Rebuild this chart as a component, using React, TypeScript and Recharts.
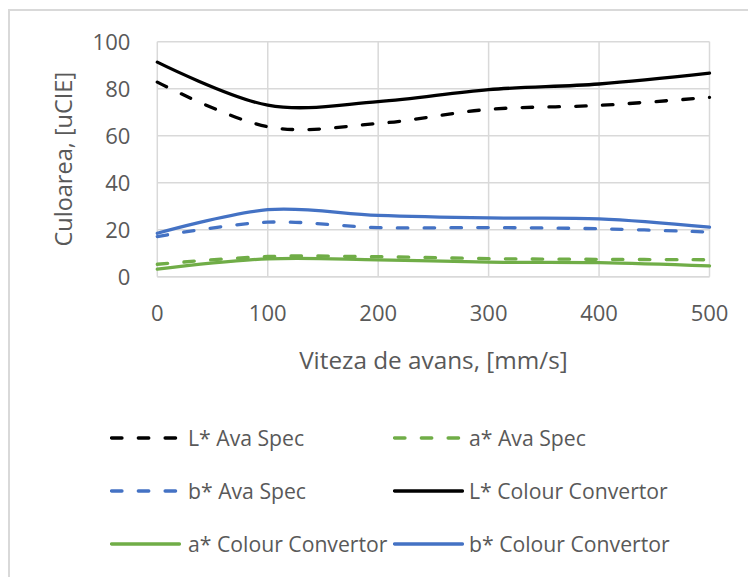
import React from "react";
import {
  LineChart,
  Line,
  XAxis,
  YAxis,
  CartesianGrid,
  Legend,
} from "recharts";

// Feed speed (mm/s)
const speeds = [0, 100, 200, 300, 400, 500];

// Colour coordinates measured with the spectrometer
const lAvaSpec = [82.8, 63.8, 65.2, 71.2, 72.9, 76.3];
const aAvaSpec = [5.3, 8.6, 8.5, 7.7, 7.4, 7.2];
const bAvaSpec = [17.1, 23.2, 20.9, 20.9, 20.4, 19.0];

// Colour coordinates computed with the colour convertor
const lColourConv = [91.3, 73.0, 74.5, 79.6, 82.0, 86.6];
const aColourConv = [3.2, 7.6, 7.2, 6.2, 6.0, 4.6];
const bColourConv = [18.5, 28.5, 26.1, 25.0, 24.6, 21.1];

const xTicks = [0, 100, 200, 300, 400, 500];
const yTicks = [0, 20, 40, 60, 80, 100];

const BLACK = "#000000";
const GREEN = "#70ad47";
const BLUE = "#4472c4";
const TEXT = "#595959";
const GRID = "#d9d9d9";
const FONT = "'Open Sans', sans-serif";

const series = [
  { key: "lAva", name: "L* Ava Spec", values: lAvaSpec, color: BLACK, dashed: true },
  { key: "aAva", name: "a* Ava Spec", values: aAvaSpec, color: GREEN, dashed: true },
  { key: "bAva", name: "b* Ava Spec", values: bAvaSpec, color: BLUE, dashed: true },
  { key: "lCc", name: "L* Colour Convertor", values: lColourConv, color: BLACK, dashed: false },
  { key: "aCc", name: "a* Colour Convertor", values: aColourConv, color: GREEN, dashed: false },
  { key: "bCc", name: "b* Colour Convertor", values: bColourConv, color: BLUE, dashed: false },
];

const data = speeds.map((s, i) => {
  const row: Record<string, number> = { speed: s };
  series.forEach((sr) => {
    row[sr.key] = sr.values[i];
  });
  return row;
});

// Smoothed spline (cardinal, tension 0) used as a custom d3-style curve factory
function smoothSegment(that: any, x: number, y: number) {
  that._context.bezierCurveTo(
    that._x1 + that._k * (that._x2 - that._x0),
    that._y1 + that._k * (that._y2 - that._y0),
    that._x2 + that._k * (that._x1 - x),
    that._y2 + that._k * (that._y1 - y),
    that._x2,
    that._y2
  );
}

function SmoothCurve(this: any, context: any) {
  this._context = context;
  this._k = 1 / 6;
}
SmoothCurve.prototype = {
  areaStart() {
    this._line = 0;
  },
  areaEnd() {
    this._line = NaN;
  },
  lineStart() {
    this._x0 = this._x1 = this._x2 = this._y0 = this._y1 = this._y2 = NaN;
    this._point = 0;
  },
  lineEnd() {
    switch (this._point) {
      case 2:
        this._context.lineTo(this._x2, this._y2);
        break;
      case 3:
        smoothSegment(this, this._x1, this._y1);
        break;
    }
    if (this._line || (this._line !== 0 && this._point === 1)) this._context.closePath();
    this._line = 1 - this._line;
  },
  point(x: number, y: number) {
    x = +x;
    y = +y;
    switch (this._point) {
      case 0:
        this._point = 1;
        if (this._line) this._context.lineTo(x, y);
        else this._context.moveTo(x, y);
        break;
      case 1:
        this._point = 2;
        this._x1 = x;
        this._y1 = y;
        break;
      case 2:
        this._point = 3;
        smoothSegment(this, x, y);
        break;
      default:
        smoothSegment(this, x, y);
        break;
    }
    this._x0 = this._x1;
    this._x1 = this._x2;
    this._x2 = x;
    this._y0 = this._y1;
    this._y1 = this._y2;
    this._y2 = y;
  },
};

const smoothCurve = (context: any) => new (SmoothCurve as any)(context);

const LEGEND_HEIGHT = 160;
const legendRows = [21, 74, 127];
const legendCols = [
  { lineX: 110, textX: 188 },
  { lineX: 393, textX: 469 },
];

const renderLegend = () => (
  <div style={{ position: "relative", width: 748, height: LEGEND_HEIGHT }}>
    {series.map((sr, i) => {
      const col = legendCols[i % 2];
      const rowY = legendRows[Math.floor(i / 2)];
      return (
        <div key={sr.key}>
          <svg
            width={72}
            height={8}
            style={{ position: "absolute", left: col.lineX, top: rowY - 4 }}
          >
            <line
              x1={1.5}
              y1={4}
              x2={69.5}
              y2={4}
              stroke={sr.color}
              strokeWidth={3.3}
              strokeLinecap="round"
              strokeDasharray={sr.dashed ? "10.5 16.3" : undefined}
            />
          </svg>
          <span
            style={{
              position: "absolute",
              left: col.textX,
              top: rowY,
              transform: "translateY(-50%)",
              fontFamily: FONT,
              fontSize: 21.2,
              color: TEXT,
              whiteSpace: "nowrap",
              lineHeight: 1,
            }}
          >
            {sr.name}
          </span>
        </div>
      );
    })}
  </div>
);

export default function App() {
  return (
    <div
      style={{
        position: "absolute",
        left: 0,
        top: 0,
        width: 748,
        height: 577,
        overflow: "hidden",
        background: "#ffffff",
        fontFamily: FONT,
      }}
    >
      <div
        style={{
          position: "absolute",
          left: 8,
          top: 9,
          width: 800,
          height: 700,
          border: `2px solid ${GRID}`,
        }}
      />
      <LineChart
        width={748}
        height={577}
        data={data}
        margin={{ top: 41.7, right: 38.5, bottom: 0, left: 0.3 }}
      >
        <CartesianGrid stroke={GRID} strokeWidth={1.5} />
        <XAxis
          dataKey="speed"
          type="number"
          domain={[0, 500]}
          ticks={xTicks}
          height={577 - 276.7 - LEGEND_HEIGHT}
          tickLine={false}
          tickSize={0}
          tickMargin={29}
          axisLine={{ stroke: GRID, strokeWidth: 1.5 }}
          tick={{ fill: TEXT, fontSize: 22, fontFamily: FONT }}
          label={{
            value: "Viteza de avans, [mm/s]",
            position: "insideTop",
            offset: 75,
            fill: TEXT,
            fontSize: 24.3,
            fontFamily: FONT,
          }}
        />
        <YAxis
          type="number"
          domain={[0, 100]}
          ticks={yTicks}
          width={157}
          tickLine={false}
          tickSize={0}
          tickMargin={27}
          axisLine={false}
          tick={{ fill: TEXT, fontSize: 22, fontFamily: FONT }}
          label={{
            value: "Culoarea, [uCIE]",
            angle: -90,
            position: "center",
            dx: -15,
            fill: TEXT,
            fontSize: 23.5,
            fontFamily: FONT,
          }}
        />
        <Legend
          verticalAlign="bottom"
          align="left"
          height={LEGEND_HEIGHT}
          content={renderLegend}
          wrapperStyle={{ left: 0, width: 748, height: LEGEND_HEIGHT }}
        />
        {series.map((sr) => (
          <Line
            key={sr.key}
            dataKey={sr.key}
            name={sr.name}
            type={smoothCurve as any}
            stroke={sr.color}
            strokeWidth={3.3}
            strokeDasharray={sr.dashed ? "10.5 16.3" : undefined}
            strokeLinecap="round"
            dot={false}
            activeDot={false}
            isAnimationActive={false}
          />
        ))}
      </LineChart>
    </div>
  );
}
